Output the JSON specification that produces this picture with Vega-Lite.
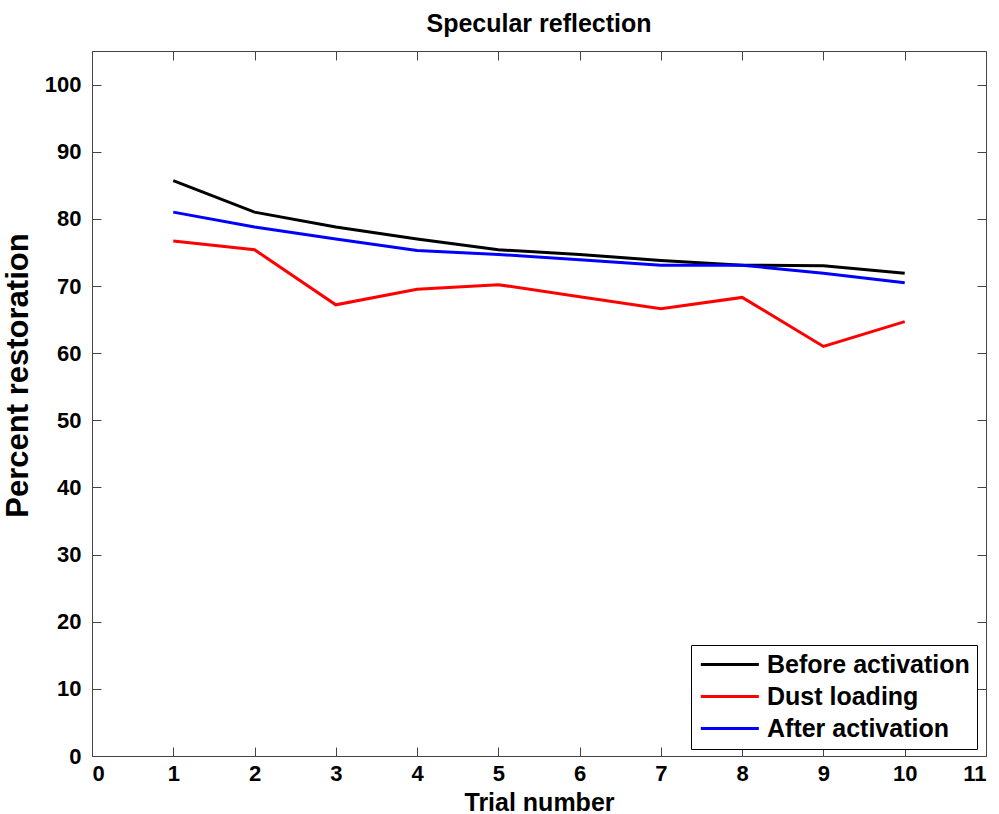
{
  "$schema": "https://vega.github.io/schema/vega-lite/v6.json",
  "width": 894,
  "height": 705,
  "autosize": {"type": "none"},
  "padding": {"left": 92, "right": 13, "top": 51, "bottom": 58},
  "background": "white",
  "config": {
    "view": {"stroke": "#444", "strokeWidth": 1},
    "font": "Liberation Sans",
    "axis": {
      "grid": false,
      "domain": false,
      "tickColor": "#444",
      "tickSize": -9,
      "labelFont": "Liberation Sans",
      "labelFontSize": 22,
      "labelFontWeight": "bold",
      "labelColor": "black",
      "titleFont": "Liberation Sans",
      "titleFontWeight": "bold",
      "titleColor": "black"
    }
  },
  "title": {
    "text": "Specular reflection",
    "font": "Liberation Sans",
    "fontSize": 25,
    "fontWeight": "bold",
    "color": "black",
    "offset": 14
  },
  "data": {
    "values": [
      {"trial": 1, "series": "Before activation", "value": 85.7},
      {"trial": 2, "series": "Before activation", "value": 81.0},
      {"trial": 3, "series": "Before activation", "value": 78.8},
      {"trial": 4, "series": "Before activation", "value": 77.0},
      {"trial": 5, "series": "Before activation", "value": 75.4},
      {"trial": 6, "series": "Before activation", "value": 74.7},
      {"trial": 7, "series": "Before activation", "value": 73.8},
      {"trial": 8, "series": "Before activation", "value": 73.1},
      {"trial": 9, "series": "Before activation", "value": 73.0},
      {"trial": 10, "series": "Before activation", "value": 71.9},
      {"trial": 1, "series": "Dust loading", "value": 76.7},
      {"trial": 2, "series": "Dust loading", "value": 75.4},
      {"trial": 3, "series": "Dust loading", "value": 67.2},
      {"trial": 4, "series": "Dust loading", "value": 69.5},
      {"trial": 5, "series": "Dust loading", "value": 70.2},
      {"trial": 6, "series": "Dust loading", "value": 68.4},
      {"trial": 7, "series": "Dust loading", "value": 66.6},
      {"trial": 8, "series": "Dust loading", "value": 68.3},
      {"trial": 9, "series": "Dust loading", "value": 61.0},
      {"trial": 10, "series": "Dust loading", "value": 64.7},
      {"trial": 1, "series": "After activation", "value": 81.0},
      {"trial": 2, "series": "After activation", "value": 78.8},
      {"trial": 3, "series": "After activation", "value": 77.0},
      {"trial": 4, "series": "After activation", "value": 75.3},
      {"trial": 5, "series": "After activation", "value": 74.7},
      {"trial": 6, "series": "After activation", "value": 73.9},
      {"trial": 7, "series": "After activation", "value": 73.1},
      {"trial": 8, "series": "After activation", "value": 73.1},
      {"trial": 9, "series": "After activation", "value": 71.9},
      {"trial": 10, "series": "After activation", "value": 70.5}
    ]
  },
  "layer": [
    {
      "mark": {"type": "line", "strokeWidth": 3},
      "encoding": {
        "x": {
          "field": "trial", "type": "quantitative",
          "scale": {"domain": [0, 11], "nice": false},
          "axis": {"values": [0,1,2,3,4,5,6,7,8,9,10,11], "title": "Trial number", "titleFontSize": 25, "labelPadding": 16, "titlePadding": 6}
        },
        "y": {
          "field": "value", "type": "quantitative",
          "scale": {"domain": [0, 105], "nice": false},
          "axis": {"values": [0,10,20,30,40,50,60,70,80,90,100], "title": "Percent restoration", "titleFontSize": 31, "labelPadding": 20, "titlePadding": 10, "titleY": 324}
        },
        "color": {
          "field": "series", "type": "nominal",
          "scale": {"domain": ["Before activation", "Dust loading", "After activation"], "range": ["#000000", "#ff0000", "#0000ff"]},
          "legend": {
            "title": null,
            "orient": "none",
            "legendX": 599,
            "legendY": 594,
            "strokeColor": "black",
            "fillColor": "white",
            "padding": 7,
            "rowPadding": 6,
            "symbolType": "M-1,0H5",
            "symbolSize": 374,
            "symbolStrokeWidth": 3,
            "labelFont": "Liberation Sans",
            "labelFontSize": 25,
            "labelFontWeight": "bold",
            "labelColor": "black",
            "labelLimit": 400,
            "labelOffset": 44
          }
        }
      }
    },
    {
      "mark": {"type": "line", "opacity": 0},
      "encoding": {
        "x": {"field": "trial", "type": "quantitative", "axis": {"orient": "top", "values": [0,1,2,3,4,5,6,7,8,9,10,11], "labels": false, "title": null}},
        "y": {"field": "value", "type": "quantitative", "axis": {"orient": "right", "values": [0,10,20,30,40,50,60,70,80,90,100], "labels": false, "title": null}}
      }
    }
  ],
  "resolve": {"axis": {"x": "independent", "y": "independent"}}
}
